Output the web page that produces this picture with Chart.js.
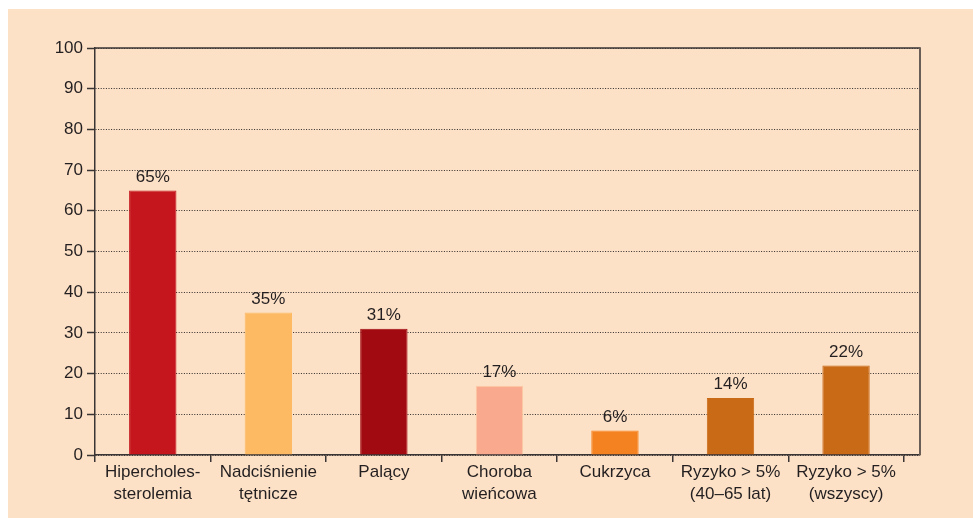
<!DOCTYPE html>
<html>
<head>
<meta charset="utf-8">
<script src="https://cdn.jsdelivr.net/npm/chart.js@4"></script>
<style>
  html, body { margin: 0; padding: 0; background: #fff; }
  #wrap { width: 973px; height: 518px; }
</style>
</head>
<body>
<div id="wrap"><canvas id="chart" width="973" height="518"></canvas></div>
<script>
const categories = [
  ["Hipercholes-", "sterolemia"],
  ["Nadciśnienie", "tętnicze"],
  "Palący",
  ["Choroba", "wieńcowa"],
  "Cukrzyca",
  ["Ryzyko > 5%", "(40–65 lat)"],
  ["Ryzyko > 5%", "(wszyscy)"]
];
const values = [65, 35, 31, 17, 6, 14, 22];
const barColors = ["#c4161c", "#fdba63", "#a10a11", "#f9a98e", "#f58220", "#c96a17", "#c96a17"];
const yTicks = [0, 10, 20, 30, 40, 50, 60, 70, 80, 90, 100];

const FONT = "'Liberation Sans', Arial, Helvetica, sans-serif";
const INK = "#231f20";

// cream panel behind the chart
const panel = {
  id: "panel",
  beforeDraw(chart) {
    const ctx = chart.ctx;
    ctx.save();
    ctx.fillStyle = "#ffffff";
    ctx.fillRect(0, 0, chart.width, chart.height);
    ctx.fillStyle = "#fde1c6";
    ctx.fillRect(8, 9, chart.width - 8, chart.height - 9);
    ctx.restore();
  }
};

// top and right frame lines, and % labels above bars
const extras = {
  id: "extras",
  afterDatasetsDraw(chart) {
    const ctx = chart.ctx;
    const a = chart.chartArea;
    ctx.save();
    ctx.strokeStyle = "#3a3535";
    ctx.lineWidth = 1.5;
    ctx.beginPath();
    ctx.moveTo(a.left, a.top);
    ctx.lineTo(a.right, a.top);
    ctx.stroke();
    ctx.strokeStyle = "#6b5e57";
    ctx.lineWidth = 2;
    ctx.beginPath();
    ctx.moveTo(a.right, a.top - 0.75);
    ctx.lineTo(a.right, a.bottom);
    ctx.stroke();

    ctx.fillStyle = INK;
    ctx.font = "17px " + FONT;
    ctx.textAlign = "center";
    ctx.textBaseline = "bottom";
    chart.getDatasetMeta(0).data.forEach((bar, i) => {
      ctx.fillText(values[i] + "%", bar.x, bar.y - 5);
    });
    ctx.restore();
  }
};

new Chart(document.getElementById("chart"), {
  type: "bar",
  data: {
    labels: categories,
    datasets: [{
      data: values,
      backgroundColor: barColors,
      borderColor: barColors.map((c, i) => (i === 3 ? "#fcc9a3" : c)),
      borderWidth: 1,
      borderSkipped: "bottom",
      barPercentage: 0.41,
      categoryPercentage: 1
    }]
  },
  options: {
    responsive: false,
    animation: false,
    layout: { padding: { left: 0, top: 48, right: 53, bottom: 0 } },
    plugins: {
      legend: { display: false },
      tooltip: { enabled: false }
    },
    scales: {
      x: {
        offset: true,
        afterBuildTicks: (s) => { s._valueRange = 7.14; },
        afterFit: (s) => { s.height = 63; },
        grid: {
          offset: true,
          drawOnChartArea: false,
          drawTicks: true,
          tickLength: 7,
          color: "#3a3535",
          lineWidth: 1.5
        },
        border: { color: "#3a3535", width: 1.5 },
        ticks: {
          color: INK,
          font: { family: FONT, size: 17, lineHeight: 1.3 },
          padding: -1,
          maxRotation: 0,
          autoSkip: false
        }
      },
      y: {
        min: 0,
        max: 100,
        afterBuildTicks: (s) => { s.ticks = yTicks.map(v => ({ value: v })); },
        afterFit: (s) => { s.width = 95; },
        grid: {
          color: "#2e2a2a",
          lineWidth: 1,
          tickLength: 8,
          tickColor: "#3a3535",
          tickWidth: 1.5,
          tickBorderDash: []
        },
        border: { color: "#3a3535", width: 1.5, dash: [1, 1.6] },
        ticks: {
          color: INK,
          font: { family: FONT, size: 17 },
          padding: 4
        }
      }
    }
  },
  plugins: [panel, extras]
});
</script>
</body>
</html>
